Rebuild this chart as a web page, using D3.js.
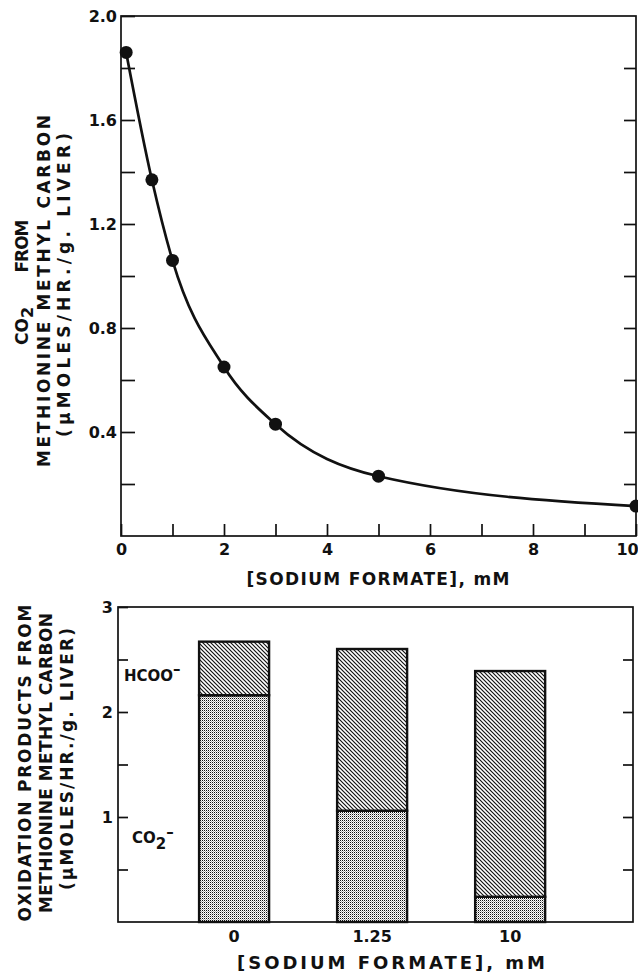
<!DOCTYPE html>
<html>
<head>
<meta charset="utf-8">
<script src="https://cdn.jsdelivr.net/npm/d3@7"></script>
<style>
  body { margin: 0; background: #fff; }
  svg text { font-family: "DejaVu Sans", sans-serif; font-weight: bold; fill: #111; }
</style>
</head>
<body>
<svg id="fig" width="638" height="976"></svg>
<script>
// Upper panel: CO2 from methionine methyl carbon vs. sodium formate
const formateMM = [0.1, 0.6, 1.0, 2.0, 3.0, 5.0, 10];
const co2Rate   = [1.86, 1.37, 1.06, 0.65, 0.43, 0.23, 0.115];
const topYTicks = [0.2, 0.4, 0.6, 0.8, 1.0, 1.2, 1.4, 1.6, 1.8, 2.0];
const topXTicks = [0, 1, 2, 3, 4, 5, 6, 7, 8, 9, 10];

// Lower panel: oxidation products, stacked CO2 + formate
const barCategories = ["0", "1.25", "10"];
const barCO2   = [2.16, 1.06, 0.24];
const barHCOO  = [0.51, 1.54, 2.15];
const barYTicks = [0.5, 1, 1.5, 2, 2.5, 3];

const svg = d3.select("#fig");
const ink = "#111";

// ---------- fill patterns ----------
const defs = svg.append("defs");
const hatch = defs.append("pattern")
  .attr("id", "hatch").attr("patternUnits", "userSpaceOnUse")
  .attr("width", 4).attr("height", 4);
hatch.append("rect").attr("width", 4).attr("height", 4).attr("fill", "#fff");
hatch.append("path")
  .attr("d", "M-1,-1L5,5M3,-1L5,1M-1,3L1,5")
  .attr("stroke", ink).attr("stroke-width", 1.15);

// fine halftone dots
const stipple = defs.append("pattern")
  .attr("id", "stipple").attr("patternUnits", "userSpaceOnUse")
  .attr("width", 2).attr("height", 2);
stipple.append("rect").attr("width", 2).attr("height", 2).attr("fill", "#fff");
stipple.append("rect").attr("x", 0).attr("y", 0).attr("width", 1).attr("height", 1).attr("fill", ink);
stipple.append("rect").attr("x", 1).attr("y", 1).attr("width", 1).attr("height", 1)
  .attr("fill", ink).attr("fill-opacity", 0.35);

function styleAxis(g) {
  g.select(".domain").remove();
  g.selectAll(".tick line").attr("stroke", ink).attr("stroke-width", 1.7);
  g.selectAll(".tick text").attr("font-size", 16).attr("fill", ink);
}

function vLabel(g, x, y, len, size) {
  const t = g.append("text")
    .attr("transform", `translate(${x},${y}) rotate(-90)`)
    .attr("text-anchor", "middle").attr("dy", "0.36em").attr("font-size", size);
  if (len) t.attr("textLength", len).attr("lengthAdjust", "spacing");
  return t;
}

// ---------- upper panel ----------
const xT = d3.scaleLinear([0, 10], [121, 636]);
const yT = d3.scaleLinear([0, 2], [536, 16]);
const upper = svg.append("g");

upper.append("rect")
  .attr("x", xT(0)).attr("y", yT(2))
  .attr("width", xT(10) - xT(0)).attr("height", yT(0) - yT(2))
  .attr("fill", "none").attr("stroke", ink).attr("stroke-width", 1.7);

const xAxisT = upper.append("g")
  .attr("transform", `translate(0,${yT(0)})`)
  .call(d3.axisBottom(xT).tickValues(topXTicks).tickSize(-12).tickPadding(8)
    .tickFormat(d => d % 2 === 0 ? d : ""))
  .call(styleAxis);
// last label sits against the page edge
xAxisT.selectAll(".tick text").filter(d => d === 10).attr("dx", -9);

upper.append("g")
  .attr("transform", `translate(${xT(0)},0)`)
  .call(d3.axisLeft(yT).tickValues(topYTicks).tickSize(-14).tickPadding(4)
    .tickFormat(d => Math.round(d * 10) % 4 === 0 ? d3.format(".1f")(d) : ""))
  .call(styleAxis);

upper.append("g")
  .attr("transform", `translate(${xT(10)},0)`)
  .call(d3.axisRight(yT).tickValues(topYTicks.slice(0, -1)).tickSize(-12).tickFormat(""))
  .call(styleAxis);

const pts = formateMM.map((x, i) => ({ x, y: co2Rate[i] }));
upper.append("path")
  .datum(pts)
  .attr("fill", "none").attr("stroke", ink).attr("stroke-width", 2.7)
  .attr("d", d3.line().x(d => xT(d.x)).y(d => yT(d.y)).curve(d3.curveMonotoneX));
upper.selectAll("circle.pt").data(pts).join("circle")
  .attr("class", "pt")
  .attr("cx", d => xT(d.x)).attr("cy", d => yT(d.y)).attr("r", 6.5).attr("fill", ink);

upper.append("text")
  .attr("x", 378).attr("y", 585).attr("text-anchor", "middle").attr("font-size", 17)
  .attr("textLength", 263).attr("lengthAdjust", "spacing")
  .text("[SODIUM FORMATE], mM");

const co2Lbl = vLabel(upper, 22, 326, null, 17);
co2Lbl.append("tspan").text("CO");
co2Lbl.append("tspan").attr("dy", "0.3em").attr("font-size", 16).text("2");
vLabel(upper, 22, 246, 53, 17).text("FROM");
vLabel(upper, 44, 291, 352, 17).text("METHIONINE METHYL CARBON");
vLabel(upper, 64, 285, 304, 17).text("(μMOLES/HR./g. LIVER)");

// ---------- lower panel ----------
const xB = d3.scaleBand(barCategories, [118, 633])
  .paddingInner(0.493).paddingOuter(0.612).align(0.48);
const yB = d3.scaleLinear([0, 3], [922, 607]);
const lower = svg.append("g");

lower.append("rect")
  .attr("x", 118).attr("y", yB(3))
  .attr("width", 633 - 118).attr("height", yB(0) - yB(3))
  .attr("fill", "none").attr("stroke", ink).attr("stroke-width", 1.7);

lower.append("g")
  .attr("transform", `translate(118,0)`)
  .call(d3.axisLeft(yB).tickValues(barYTicks).tickSize(-10).tickPadding(5)
    .tickFormat(d => Number.isInteger(d) ? d : ""))
  .call(styleAxis);

lower.append("g")
  .attr("transform", `translate(633,0)`)
  .call(d3.axisRight(yB).tickValues(barYTicks.slice(0, -1)).tickSize(-10).tickFormat(""))
  .call(styleAxis);

lower.append("g")
  .attr("transform", `translate(0,${yB(0)})`)
  .call(d3.axisBottom(xB).tickSize(0).tickPadding(9))
  .call(styleAxis);

const rows = barCategories.map((c, i) => ({ cat: c, co2: barCO2[i], hcoo: barHCOO[i] }));
const stacked = d3.stack().keys(["co2", "hcoo"])(rows);
const fills = { co2: "url(#stipple)", hcoo: "url(#hatch)" };

lower.selectAll("g.layer").data(stacked).join("g")
  .attr("class", "layer")
  .attr("fill", d => fills[d.key])
  .selectAll("rect").data(d => d).join("rect")
  .attr("x", d => xB(d.data.cat))
  .attr("width", xB.bandwidth())
  .attr("y", d => yB(d[1]))
  .attr("height", d => yB(d[0]) - yB(d[1]))
  .attr("stroke", ink).attr("stroke-width", 2.4);

const hcooLbl = lower.append("text")
  .attr("x", 124).attr("y", yB(2.35)).attr("dy", "0.36em").attr("font-size", 15);
hcooLbl.append("tspan").text("HCOO");
hcooLbl.append("tspan").attr("dy", "-0.45em").text("–");

const co2bLbl = lower.append("text")
  .attr("x", 132).attr("y", yB(0.8)).attr("dy", "0.36em").attr("font-size", 15);
co2bLbl.append("tspan").text("CO");
co2bLbl.append("tspan").attr("dy", "0.35em").text("2");
co2bLbl.append("tspan").attr("dy", "-0.75em").text("–");

lower.append("text")
  .attr("x", 391).attr("y", 969).attr("text-anchor", "middle").attr("font-size", 18)
  .attr("textLength", 308).attr("lengthAdjust", "spacing")
  .text("[SODIUM FORMATE], mM");

vLabel(lower, 25, 763, 317, 17).text("OXIDATION PRODUCTS FROM");
vLabel(lower, 46, 763, 300, 17).text("METHIONINE METHYL CARBON");
vLabel(lower, 67, 759, 262, 17).text("(μMOLES/HR./g. LIVER)");
</script>
</body>
</html>
